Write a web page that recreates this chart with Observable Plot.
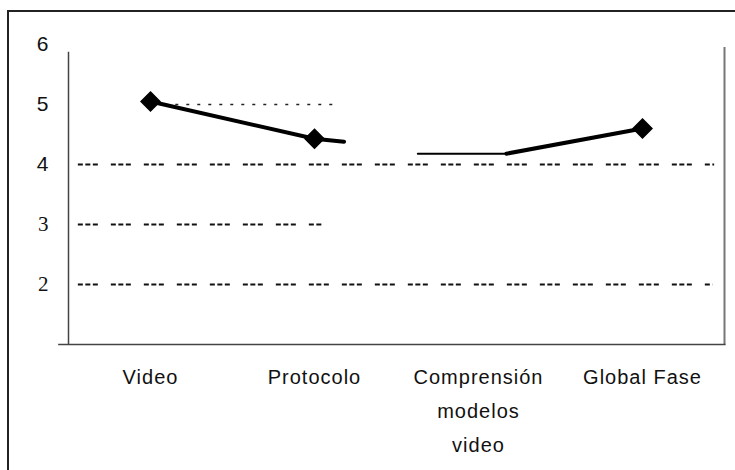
<!DOCTYPE html>
<html><head><meta charset="utf-8">
<script src="https://cdn.jsdelivr.net/npm/d3@7"></script>
<script src="https://cdn.jsdelivr.net/npm/@observablehq/plot@0.6"></script>
<style>
body{margin:0;background:#fff;}
#wrap{position:relative;width:735px;height:470px;overflow:hidden;background:#fff;}
#frame{position:absolute;left:7px;top:10px;width:800px;height:600px;border-top:2px solid #222;border-left:2px solid #222;pointer-events:none;}
#chart{position:absolute;left:0;top:0;}
</style></head><body><div id="wrap"><div id="chart"></div><div id="frame"></div></div>
<script>
// categories and values
const categories = ["Video", "Protocolo", "Comprensión\nmodelos\nvideo", "Global Fase"];
const catPos = [0.5, 1.5, 2.5, 3.5];
const markerCats = [0, 1, 3];
const values = [5.05, 4.43, 4.18, 4.6];

// broken line pieces (position in category units, value)
const segAPos = [0.5, 1.5, 1.68];
const segAVal = [5.05, 4.43, 4.38];
const segBPos = [2.13, 2.67];
const segBVal = [4.18, 4.18];
const segCPos = [2.67, 3.5];
const segCVal = [4.18, 4.6];

// y tick labels
const yTicksSans = [4, 5, 6];
const yTicksSerif = [2, 3];

// dashed reference lines: value, start, end
const gridVals = [4, 3, 2];
const gridFrom = [0.06, 0.06, 0.06];
const gridTo = [3.94, 1.55, 3.93];
const dotVal = [5];
const dotFrom = [0.52];
const dotTo = [1.63];

const toPts = (p, v) => p.map((x, i) => ({x, v: v[i]}));
const grid = gridVals.map((v, i) => ({v, x1: gridFrom[i], x2: gridTo[i]}));
const dots = dotVal.map((v, i) => ({v, x1: dotFrom[i], x2: dotTo[i]}));
const markers = markerCats.map(i => ({x: catPos[i], v: values[i]}));
const labels = categories.map((c, i) => ({x: catPos[i], t: c}));

const chart = Plot.plot({
  width: 735, height: 470,
  marginLeft: 68, marginRight: 11, marginTop: 44, marginBottom: 126,
  x: {domain: [0, 4], axis: null},
  y: {domain: [1, 6], axis: null},
  marks: [
    Plot.ruleY(grid, {y: "v", x1: "x1", x2: "x2", stroke: "#111", strokeWidth: 2, strokeDasharray: "5,2.5,5,2.5,5,13"}),
    Plot.ruleY(dots, {y: "v", x1: "x1", x2: "x2", stroke: "#222", strokeWidth: 1.4, strokeDasharray: "3,8"}),
    Plot.ruleX([0], {y1: 1, y2: 5.87, stroke: "#444", strokeWidth: 1.5}),
    Plot.ruleX([4], {y1: 1, y2: 5.95, stroke: "#777", strokeWidth: 2}),
    Plot.ruleY([1], {x1: -0.06, x2: 4.01, stroke: "#444", strokeWidth: 1.5}),
    Plot.line(toPts(segAPos, segAVal), {x: "x", y: "v", stroke: "#000", strokeWidth: 4}),
    Plot.line(toPts(segBPos, segBVal), {x: "x", y: "v", stroke: "#000", strokeWidth: 2}),
    Plot.line(toPts(segCPos, segCVal), {x: "x", y: "v", stroke: "#000", strokeWidth: 4}),
    Plot.dot(markers, {x: "x", y: "v", symbol: "diamond2", r: 8.5, fill: "#000", stroke: "#000"}),
    Plot.text(yTicksSans, {x: 0, y: d => d, text: d => String(d), dx: -20, textAnchor: "end", fontSize: 21, fill: "#111", fontFamily: "Liberation Sans, Arial, sans-serif"}),
    Plot.text(yTicksSerif, {x: 0, y: d => d, text: d => String(d), dx: -20, textAnchor: "end", fontSize: 21, fill: "#111", fontFamily: "Liberation Serif, Times New Roman, serif"}),
    Plot.text(labels, {x: "x", y: 1, text: "t", dy: 16, lineAnchor: "top", lineHeight: 1.68, fontSize: 20, fill: "#111", fontFamily: "Liberation Sans, Arial, sans-serif"})
  ]
});
d3.select(chart).selectAll("g").filter(function(){ return this.getAttribute("font-size") === "20"; }).attr("letter-spacing", 1);
document.getElementById("chart").appendChild(chart);
</script></body></html>
